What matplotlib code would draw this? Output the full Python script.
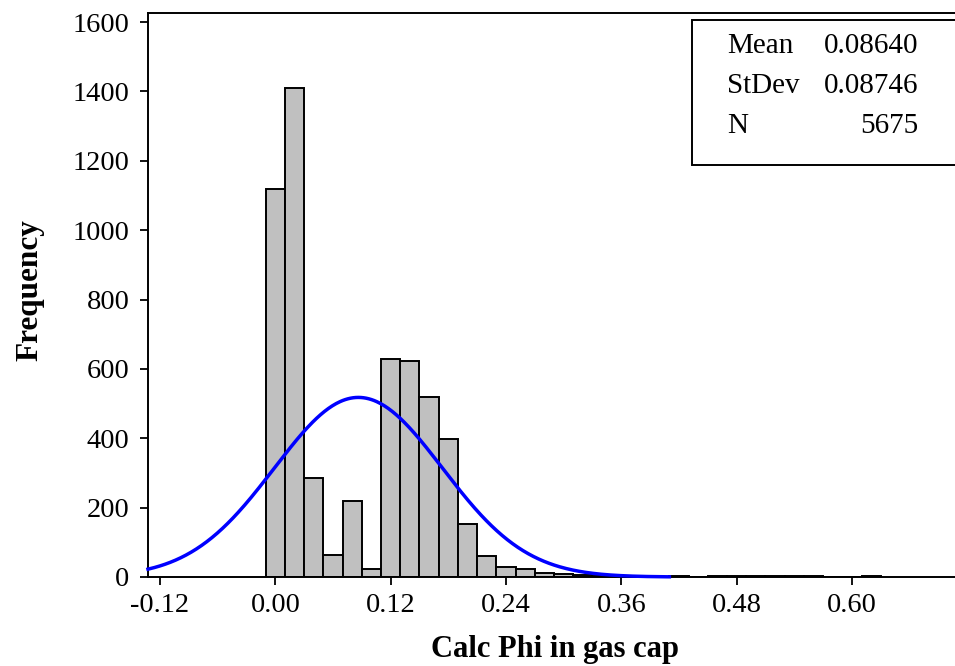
import numpy as np
import matplotlib.pyplot as plt
from matplotlib.patches import Rectangle

# histogram data (bin centers, width 0.02)
bin_centers = [0.00, 0.02, 0.04, 0.06, 0.08, 0.10, 0.12, 0.14, 0.16, 0.18,
               0.20, 0.22, 0.24, 0.26, 0.28, 0.30, 0.32, 0.34, 0.36, 0.38,
               0.40, 0.42, 0.44, 0.46, 0.48, 0.50, 0.52, 0.54, 0.56, 0.58,
               0.60, 0.62]
counts = [1118, 1410, 285, 62, 220, 24, 629, 624, 519, 397,
          152, 61, 29, 24, 12, 8, 5, 3, 2, 1,
          1, 2, 0, 2, 2, 2, 2, 2, 2, 0,
          0, 3]
bin_width = 0.02

mean = 0.08640
stdev = 0.08746
n_obs = 5675

x_ticks = [-0.12, 0.00, 0.12, 0.24, 0.36, 0.48, 0.60]
x_ticklabels = ['-0.12', '0.00', '0.12', '0.24', '0.36', '0.48', '0.60']
y_ticks = [0, 200, 400, 600, 800, 1000, 1200, 1400, 1600]

plt.rcParams['font.family'] = ['Liberation Serif', 'DejaVu Serif']

fig = plt.figure(figsize=(9.55, 6.66), dpi=100)
ax = fig.add_axes([148 / 955, 1 - 577 / 666, 814 / 955, 564 / 666])

ax.bar(bin_centers, counts, width=bin_width, color='#c0c0c0',
       edgecolor='black', linewidth=1.4, zorder=2)

# fitted normal curve
xs = np.linspace(-0.1325, 0.41, 400)
ys = n_obs * bin_width / (stdev * np.sqrt(2 * np.pi)) * np.exp(-0.5 * ((xs - mean) / stdev) ** 2)
ax.plot(xs, ys, color='#0000ff', linewidth=2.5, zorder=3, clip_on=False)

ax.set_xlim(-0.1325, 0.7145)
ax.set_ylim(0, 1626)
ax.set_xticks(x_ticks)
ax.set_xticklabels(x_ticklabels)
ax.set_yticks(y_ticks)
ax.tick_params(direction='out', length=5.5, width=1.3, labelsize=20.5, pad=6)
ax.tick_params(axis='y', pad=8)
for s in ax.spines.values():
    s.set_linewidth(1.4)

fig.text(555 / 955, 1 - 650 / 666, 'Calc Phi in gas cap', fontsize=22,
         fontweight='bold', ha='center', va='center')
fig.text(30 / 955, 1 - 290 / 666, 'Frequency', fontsize=22.5, fontweight='bold',
         rotation=90, ha='center', va='center')

# stats box
fig.patches.append(Rectangle((692 / 955, 1 - 165 / 666), 0.3, 145 / 666,
                             transform=fig.transFigure, facecolor='white',
                             edgecolor='black', linewidth=1.4, zorder=5))
rows = [('Mean', f'{mean:.5f}'), ('StDev', f'{stdev:.5f}'), ('N', f'{n_obs}')]
for i, (lab, val) in enumerate(rows):
    y = 1 - (46 + 40 * i) / 666
    fig.text(727 / 955, y, lab, fontsize=21, ha='left', va='center', zorder=6)
    fig.text(918 / 955, y, val, fontsize=21, ha='right', va='center', zorder=6)

fig.savefig('out.png', dpi=100)
